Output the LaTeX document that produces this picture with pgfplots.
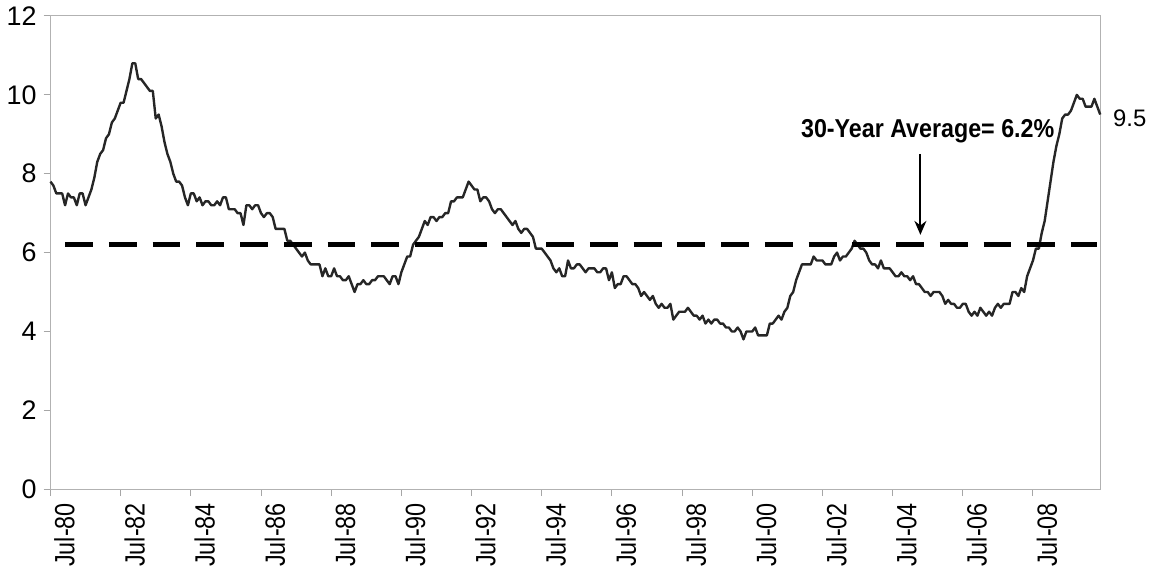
\documentclass[border=0pt]{standalone}
\usepackage{fontspec}
\setmainfont{Liberation Sans}
\newfontfamily\narrowfont{Liberation Sans}[FakeStretch=0.84]
\newfontfamily\annfont{Liberation Sans}[FakeStretch=0.9]
\usepackage{pgfplots}
\usepackage{pgfplotstable}
\pgfplotsset{compat=1.18}
\usetikzlibrary{arrows.meta}
\pgfplotstableread[row sep=\\]{
u\\
7.8\\7.7\\7.5\\7.5\\7.5\\7.2\\
7.5\\7.4\\7.4\\7.2\\7.5\\7.5\\7.2\\7.4\\7.6\\7.9\\8.3\\8.5\\
8.6\\8.9\\9.0\\9.3\\9.4\\9.6\\9.8\\9.8\\10.1\\10.4\\10.8\\10.8\\
10.4\\10.4\\10.3\\10.2\\10.1\\10.1\\9.4\\9.5\\9.2\\8.8\\8.5\\8.3\\
8.0\\7.8\\7.8\\7.7\\7.4\\7.2\\7.5\\7.5\\7.3\\7.4\\7.2\\7.3\\
7.3\\7.2\\7.2\\7.3\\7.2\\7.4\\7.4\\7.1\\7.1\\7.1\\7.0\\7.0\\
6.7\\7.2\\7.2\\7.1\\7.2\\7.2\\7.0\\6.9\\7.0\\7.0\\6.9\\6.6\\
6.6\\6.6\\6.6\\6.3\\6.3\\6.2\\6.1\\6.0\\5.9\\6.0\\5.8\\5.7\\
5.7\\5.7\\5.7\\5.4\\5.6\\5.4\\5.4\\5.6\\5.4\\5.4\\5.3\\5.3\\
5.4\\5.2\\5.0\\5.2\\5.2\\5.3\\5.2\\5.2\\5.3\\5.3\\5.4\\5.4\\
5.4\\5.3\\5.2\\5.4\\5.4\\5.2\\5.5\\5.7\\5.9\\5.9\\6.2\\6.3\\
6.4\\6.6\\6.8\\6.7\\6.9\\6.9\\6.8\\6.9\\6.9\\7.0\\7.0\\7.3\\
7.3\\7.4\\7.4\\7.4\\7.6\\7.8\\7.7\\7.6\\7.6\\7.3\\7.4\\7.4\\
7.3\\7.1\\7.0\\7.1\\7.1\\7.0\\6.9\\6.8\\6.7\\6.8\\6.6\\6.5\\
6.6\\6.6\\6.5\\6.4\\6.1\\6.1\\6.1\\6.0\\5.9\\5.8\\5.6\\5.5\\
5.6\\5.4\\5.4\\5.8\\5.6\\5.6\\5.7\\5.7\\5.6\\5.5\\5.6\\5.6\\
5.6\\5.5\\5.5\\5.6\\5.6\\5.3\\5.5\\5.1\\5.2\\5.2\\5.4\\5.4\\
5.3\\5.2\\5.2\\5.1\\4.9\\5.0\\4.9\\4.8\\4.9\\4.7\\4.6\\4.7\\
4.6\\4.6\\4.7\\4.3\\4.4\\4.5\\4.5\\4.5\\4.6\\4.5\\4.4\\4.4\\
4.3\\4.4\\4.2\\4.3\\4.2\\4.3\\4.3\\4.2\\4.2\\4.1\\4.1\\4.0\\
4.0\\4.1\\4.0\\3.8\\4.0\\4.0\\4.0\\4.1\\3.9\\3.9\\3.9\\3.9\\
4.2\\4.2\\4.3\\4.4\\4.3\\4.5\\4.6\\4.9\\5.0\\5.3\\5.5\\5.7\\
5.7\\5.7\\5.7\\5.9\\5.8\\5.8\\5.8\\5.7\\5.7\\5.7\\5.9\\6.0\\
5.8\\5.9\\5.9\\6.0\\6.1\\6.3\\6.2\\6.1\\6.1\\6.0\\5.8\\5.7\\
5.7\\5.6\\5.8\\5.6\\5.6\\5.6\\5.5\\5.4\\5.4\\5.5\\5.4\\5.4\\
5.3\\5.4\\5.2\\5.2\\5.1\\5.0\\5.0\\4.9\\5.0\\5.0\\5.0\\4.9\\
4.7\\4.8\\4.7\\4.7\\4.6\\4.6\\4.7\\4.7\\4.5\\4.4\\4.5\\4.4\\
4.6\\4.5\\4.4\\4.5\\4.4\\4.6\\4.7\\4.6\\4.7\\4.7\\4.7\\5.0\\
5.0\\4.9\\5.1\\5.0\\5.4\\5.6\\5.8\\6.1\\6.1\\6.5\\6.8\\7.3\\
7.8\\8.3\\8.7\\9.0\\9.4\\9.5\\9.5\\9.6\\9.8\\10.0\\9.9\\9.9\\
9.7\\9.7\\9.7\\9.9\\9.7\\9.5\\
}\unemp
\begin{document}
\begin{tikzpicture}
\begin{axis}[
  scale only axis,
  width=528pt, height=238pt,
  xmin=0, xmax=359, ymin=0, ymax=12,
  xtick={0,24,...,336},
  xticklabels={Jul-80,Jul-82,Jul-84,Jul-86,Jul-88,Jul-90,Jul-92,Jul-94,Jul-96,Jul-98,Jul-00,Jul-02,Jul-04,Jul-06,Jul-08},
  ytick={0,2,...,12},
  xtick pos=bottom, ytick pos=left,
  tick align=outside,
  major tick length=3.5pt,
  tick style={gray!70, line width=0.5pt},
  axis line style={gray!60, line width=0.5pt},
  xticklabel style={font=\narrowfont\fontsize{14}{16}\selectfont, rotate=90, anchor=east, yshift=-7pt},
  yticklabel style={font=\fontsize{13.5}{15}\selectfont},
  /pgf/number format/assume math mode=true,
  clip=false,
]
\addplot[black!85, line width=1.2pt, line join=round] table[x expr=\coordindex, y=u] {\unemp};
\addplot[black, line width=2.3pt, dash pattern=on 14pt off 8pt] coordinates {(5,6.2) (358,6.2)};
\draw[-{Stealth[length=7pt,width=6pt]}, line width=1pt] (axis cs:297.5,8.5) -- (axis cs:297.5,6.45);
\node[font=\annfont\bfseries\fontsize{13}{15}\selectfont, anchor=south] at (axis cs:300,8.6) {30-Year Average= 6.2\%};
\node[font=\fontsize{12}{14}\selectfont, anchor=west] at (axis cs:359,9.4) {\hspace{3pt}9.5};
\end{axis}
\end{tikzpicture}
\end{document}
